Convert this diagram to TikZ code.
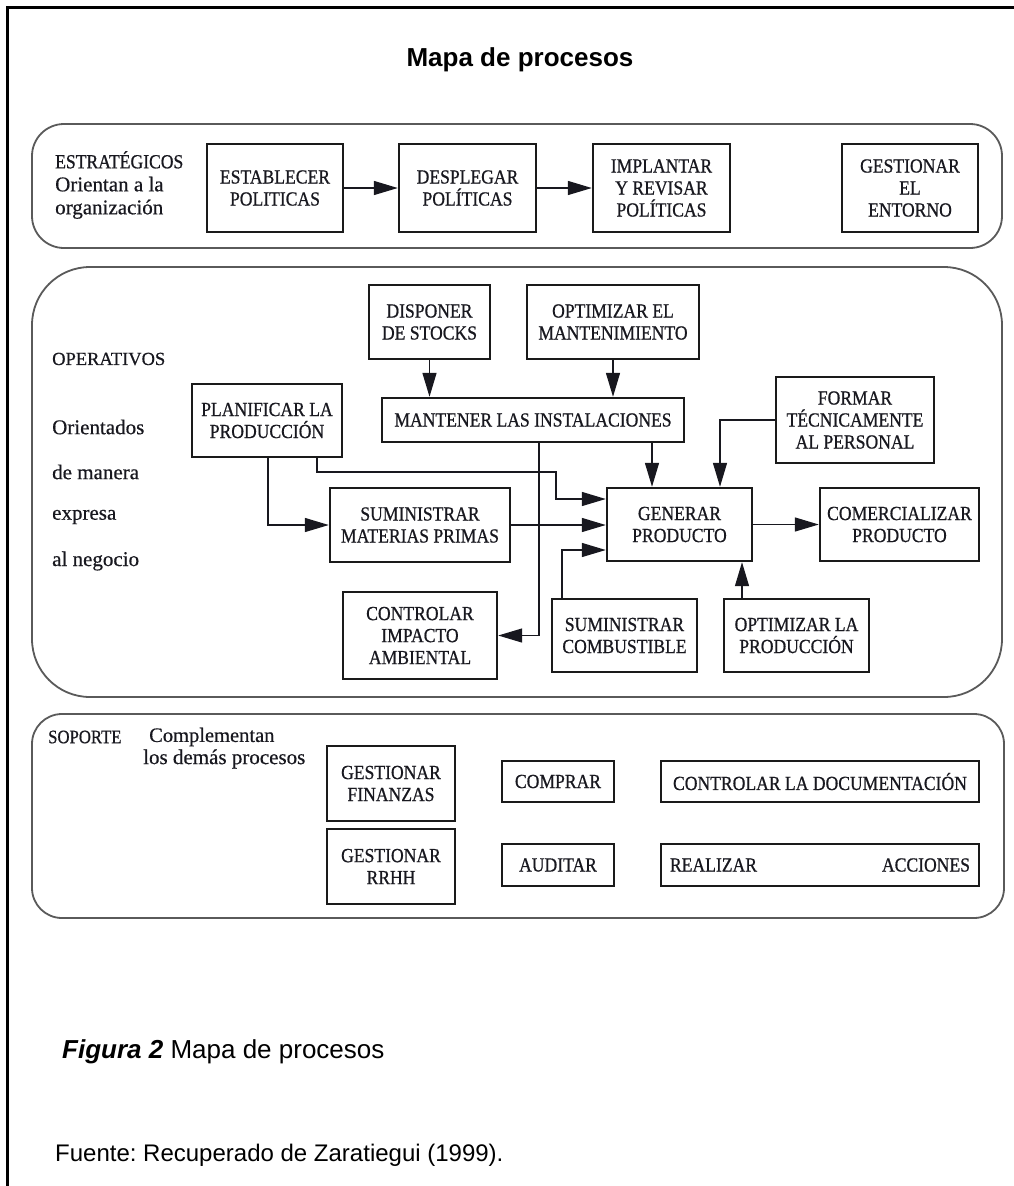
\documentclass[tikz,border=0pt]{standalone}
\usepackage{fontspec}
\setmainfont[FakeBold=0.5]{Liberation Serif}
\newfontfamily\narrowserif[FakeStretch=0.88,FakeBold=0.7]{Liberation Serif}
\newfontfamily\sansfam{Liberation Sans}
\usetikzlibrary{arrows.meta}

\definecolor{ink}{HTML}{18181F}
\definecolor{boxline}{HTML}{1A1A1A}
\definecolor{bandline}{HTML}{5A5A5A}

\begin{document}
\frenchspacing
\begin{tikzpicture}[x=1pt,y=-1pt,
  proc/.style={draw=boxline, line width=2.4pt, inner sep=2pt, align=center,
    text=ink, font=\narrowserif\fontsize{20}{22}\selectfont},
  link/.style={draw=ink, line width=1.4pt, -{Triangle[length=24pt,width=14pt]}},
  band/.style={draw=bandline, line width=1.8pt},
  lbl/.style={anchor=west, inner sep=0pt, text=ink, align=left,
    font=\fontsize{21}{23}\selectfont},
  lblcaps/.style={anchor=west, inner sep=0pt, text=ink,
    font=\narrowserif\fontsize{20}{23}\selectfont},
  sanstext/.style={anchor=west, inner sep=0pt, text=black,
    font=\sansfam\fontsize{26}{30}\selectfont},
]
\useasboundingbox (0,0) rectangle (1014,1186);
\fill[white] (0,0) rectangle (1014,1186);

% page frame: top and left rules
\draw[line width=3pt, line cap=rect] (1014,7) -- (7,7) -- (7,1190);

% title
\node[font=\sansfam\bfseries\fontsize{26}{30}\selectfont] (title) at (520,60) {Mapa de procesos};

% ---------- bands ----------
\draw[band, rounded corners=32pt] (32,124) rectangle (1002,248);
\draw[band, rounded corners=58pt] (32,267) rectangle (1002,697);
\draw[band, rounded corners=30pt] (32,714) rectangle (1004,918);

% ---------- strategic processes ----------
\node[lbl] (lblE) at (55,185) {{\narrowserif\fontsize{20}{23}\selectfont ESTRATÉGICOS}\\Orientan a la\\organización};

\node[proc, minimum width=136pt, minimum height=88pt] (est) at (275,188) {ESTABLECER\\POLITICAS};
\node[proc, minimum width=137pt, minimum height=88pt] (des) at (467.5,188) {DESPLEGAR\\POLÍTICAS};
\node[proc, minimum width=137pt, minimum height=88pt] (imp) at (661.5,188) {IMPLANTAR\\Y REVISAR\\POLÍTICAS};
\node[proc, minimum width=136pt, minimum height=88pt] (ges) at (910,188) {GESTIONAR\\EL\\ENTORNO};

\draw[link] (est.east) -- (des.west);
\draw[link] (des.east) -- (imp.west);

% ---------- operational processes ----------
\node[lblcaps, font=\fontsize{18.5}{22}\selectfont] (lblO) at (52,359) {OPERATIVOS};
\node[lbl] (lblO1) at (52,427) {Orientados};
\node[lbl] (lblO2) at (52,472) {de manera};
\node[lbl] (lblO3) at (52,517) {expresa};
\node[lbl] (lblO4) at (52,561) {al negocio};

\node[proc, minimum width=121pt, minimum height=74pt] (disp) at (429.5,322) {DISPONER\\DE STOCKS};
\node[proc, minimum width=172pt, minimum height=74pt] (optm) at (613,322) {OPTIMIZAR EL\\MANTENIMIENTO};
\node[proc, minimum width=302pt, minimum height=44pt] (mant) at (533,420) {MANTENER LAS INSTALACIONES};
\node[proc, minimum width=150pt, minimum height=73pt] (plan) at (267,420.5) {PLANIFICAR LA\\PRODUCCIÓN};
\node[proc, minimum width=158pt, minimum height=86pt] (form) at (855,420) {FORMAR\\TÉCNICAMENTE\\AL PERSONAL};
\node[proc, minimum width=180pt, minimum height=74pt] (smp) at (420,525) {SUMINISTRAR\\MATERIAS PRIMAS};
\node[proc, minimum width=145pt, minimum height=73pt] (gen) at (679.5,524.5) {GENERAR\\PRODUCTO};
\node[proc, minimum width=159pt, minimum height=73pt] (com) at (899.5,524.5) {COMERCIALIZAR\\PRODUCTO};
\node[proc, minimum width=154pt, minimum height=87pt] (ctrl) at (420,635.5) {CONTROLAR\\IMPACTO\\AMBIENTAL};
\node[proc, minimum width=145pt, minimum height=73pt] (scomb) at (624.5,635.5) {SUMINISTRAR\\COMBUSTIBLE};
\node[proc, minimum width=145pt, minimum height=73pt] (optp) at (796.5,635.5) {OPTIMIZAR LA\\PRODUCCIÓN};

% routing guides for the connectors
\coordinate (xPlanA) at (268,0);
\coordinate (xPlanB) at (317,0);
\coordinate (bendPlan) at (556,472);
\coordinate (yPlanIn) at (0,499);
\coordinate (xDown) at (539,0);
\coordinate (xMantGen) at (652,0);
\coordinate (xForm) at (720,0);
\coordinate (xComb) at (562,0);
\coordinate (yCombIn) at (0,550);
\coordinate (xOptp) at (742,0);

\draw[link] (disp.south) -- (disp.south |- mant.north);
\draw[link] (optm.south) -- (optm.south |- mant.north);
\draw[link] (mant.south -| xMantGen) -- (gen.north -| xMantGen);
\draw[link] (form.west) -| (gen.north -| xForm);
\draw[link] (mant.south -| xDown) |- (ctrl.east);
\draw[link] (plan.south -| xPlanA) |- (smp.west);
\draw[link] (plan.south -| xPlanB) |- (bendPlan) |- (gen.west |- yPlanIn);
\draw[link] (smp.east) -- (smp.east -| gen.west);
\draw[link] (scomb.north -| xComb) |- (gen.west |- yCombIn);
\draw[link] (optp.north -| xOptp) -- (gen.south -| xOptp);
\draw[link] (gen.east) -- (com.west);

% ---------- support processes ----------
\node[lblcaps, font=\narrowserif\fontsize{19}{22}\selectfont] (lblS) at (48,737) {SOPORTE};
\node[lbl, font=\fontsize{20.5}{23}\selectfont] (lblS1) at (149,737) {Complementan};
\node[lbl] (lblS2) at (143,759) {los demás procesos};

\node[proc, minimum width=128pt, minimum height=75pt] (gfin) at (391,783.5) {GESTIONAR\\FINANZAS};
\node[proc, minimum width=128pt, minimum height=75pt] (grh) at (391,866.5) {GESTIONAR\\RRHH};
\node[proc, minimum width=112pt, minimum height=41pt] (comp) at (558,781.5) {COMPRAR};
\node[proc, minimum width=112pt, minimum height=42pt] (aud) at (558,865) {AUDITAR};
\node[proc, minimum width=318pt, minimum height=41pt] (cdoc) at (820,781.5) {CONTROLAR LA DOCUMENTACIÓN};
\node[proc, minimum width=318pt, minimum height=42pt] (real) at (820,865) {\hbox to 300pt{REALIZAR\hfill ACCIONES}};

% ---------- caption ----------
\node[sanstext] (cap) at (62,1052) {\textbf{\textit{Figura 2}} Mapa de procesos};
\node[sanstext, font=\sansfam\fontsize{24}{30}\selectfont] (src) at (55,1155) {Fuente: Recuperado de Zaratiegui (1999).};
\end{tikzpicture}
\end{document}
